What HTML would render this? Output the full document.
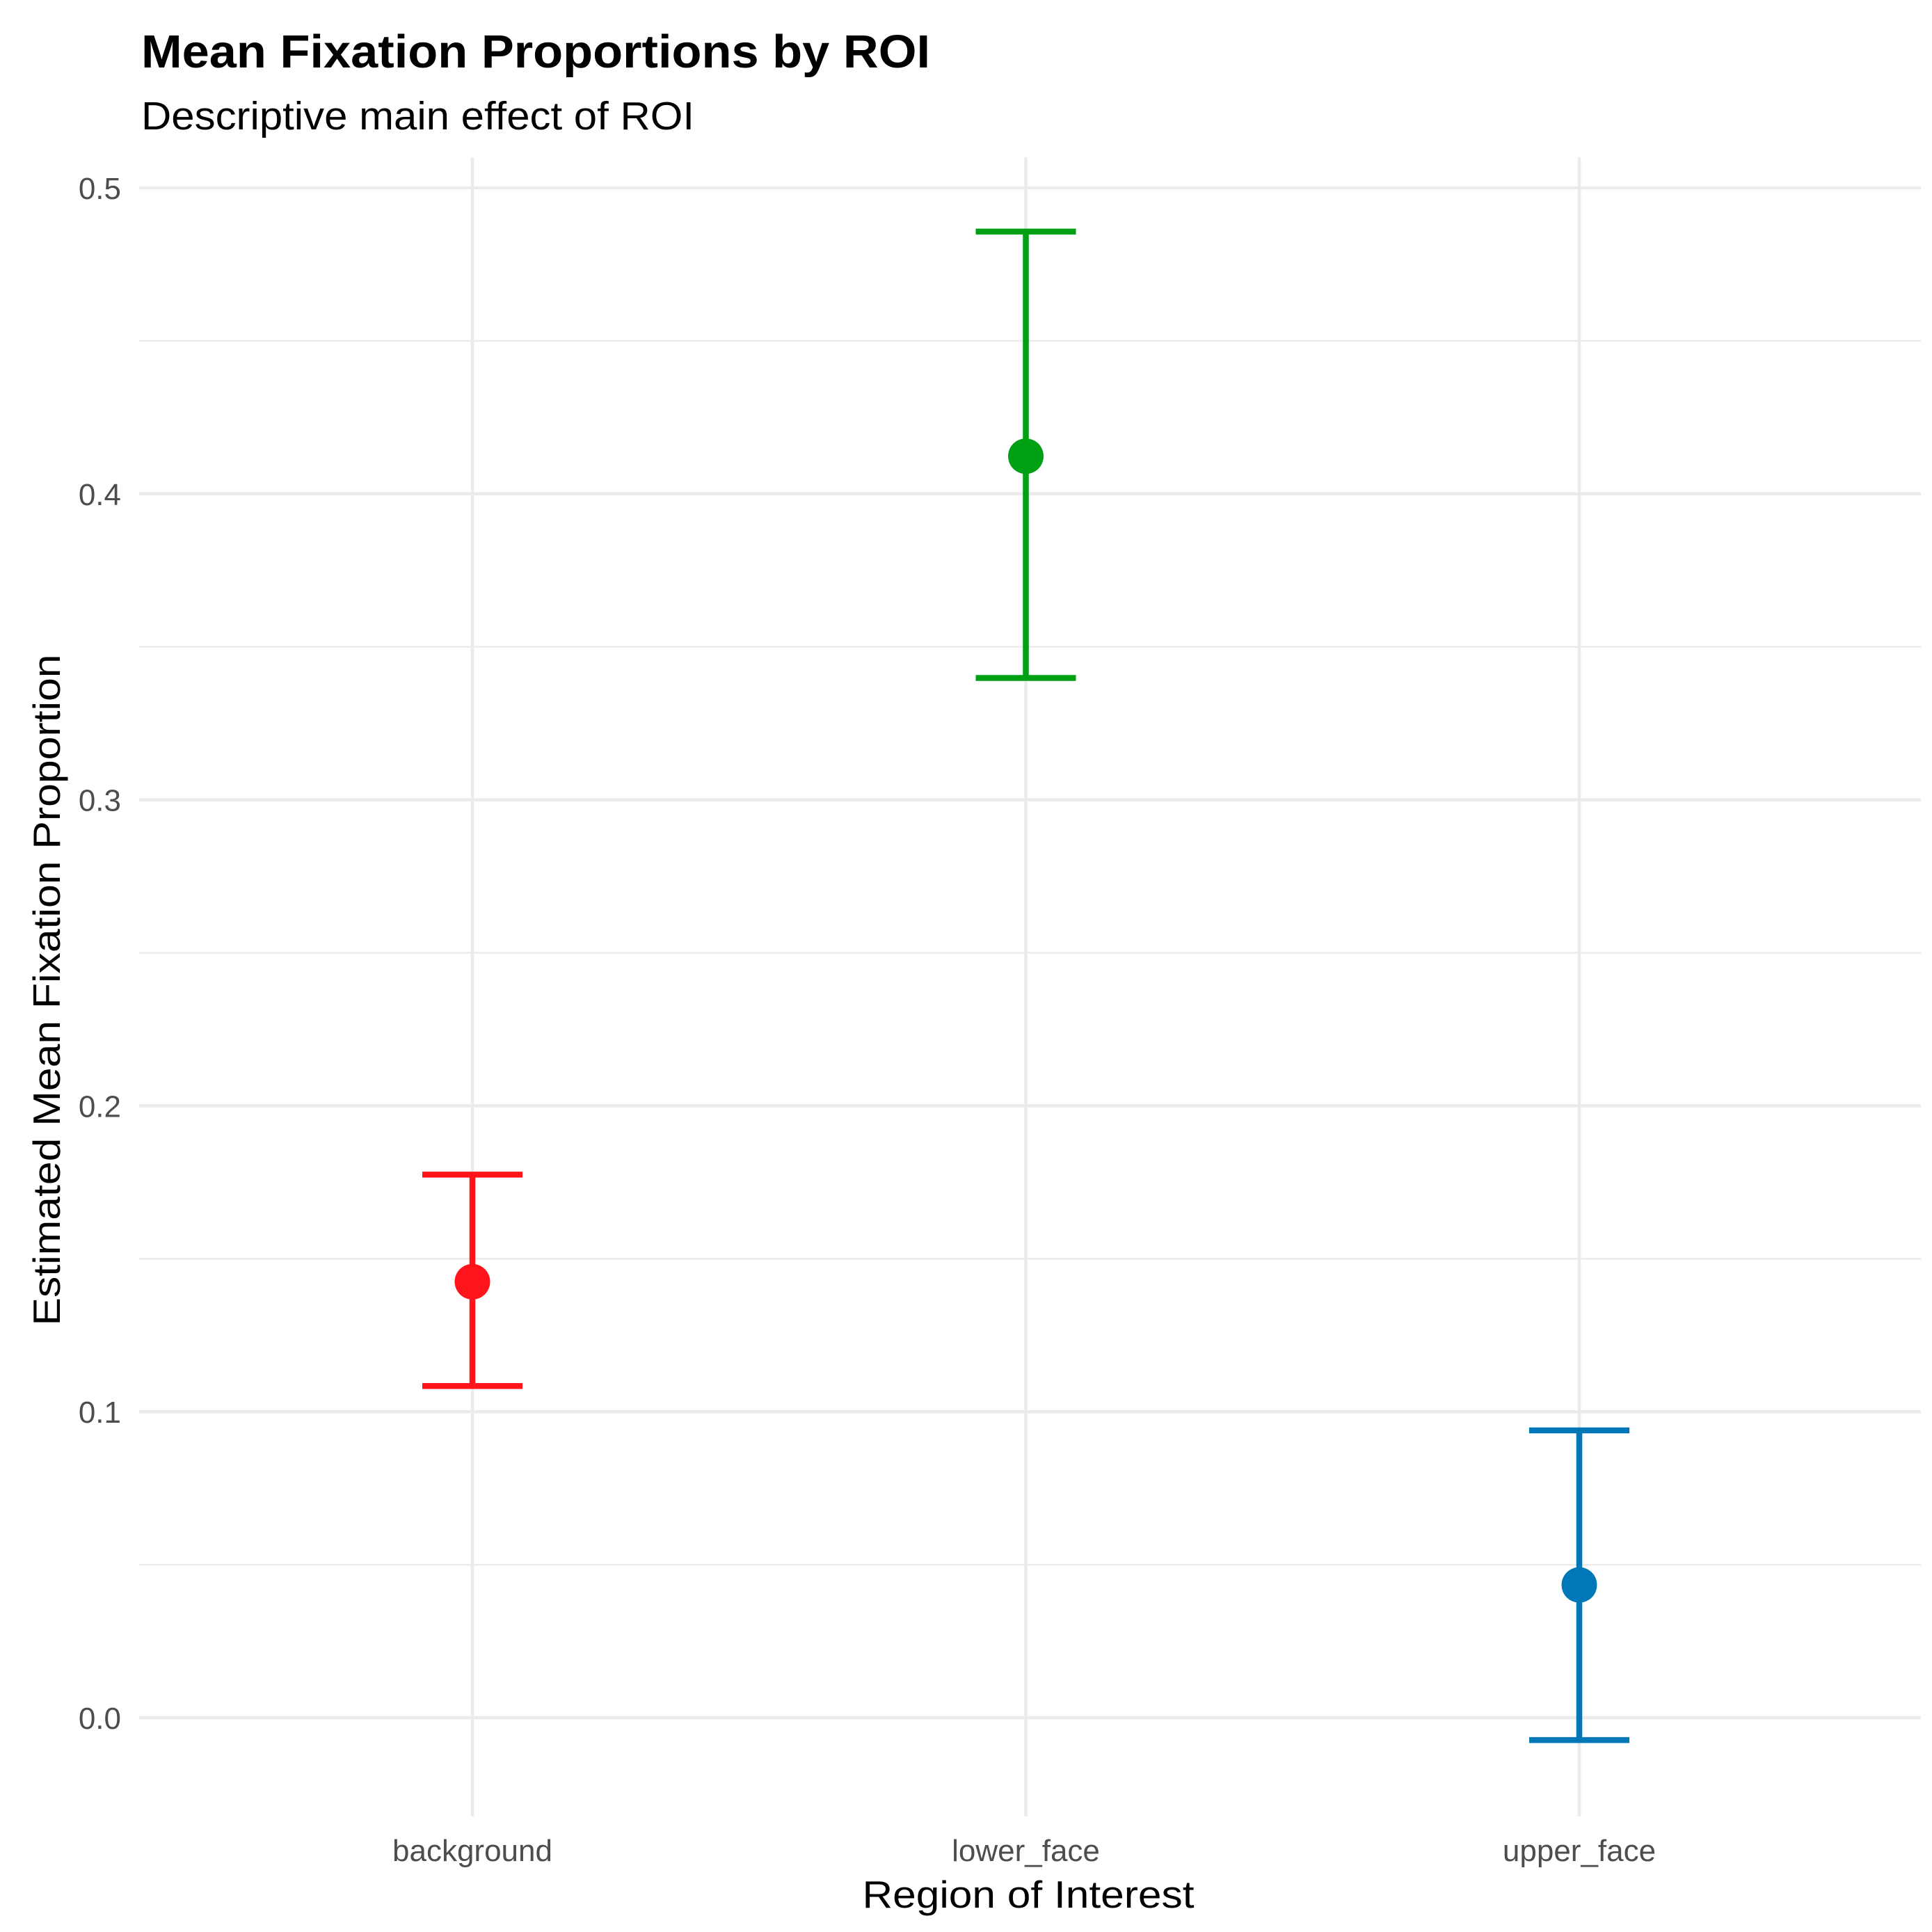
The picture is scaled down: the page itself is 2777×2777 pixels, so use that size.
<!DOCTYPE html>
<html><head><meta charset="utf-8"><style>
html,body{margin:0;padding:0;background:#fff;}
svg{display:block;font-family:"Liberation Sans",Arial,sans-serif;}
</style></head><body>
<svg id="chart" width="2777" height="2777" viewBox="0 0 2777 2777">
<text x="203" y="97" font-size="67" font-weight="bold" fill="#000" textLength="1134" lengthAdjust="spacingAndGlyphs">Mean Fixation Proportions by ROI</text>
<text x="203" y="186" font-size="57" fill="#000" textLength="795" lengthAdjust="spacingAndGlyphs">Descriptive main effect of ROI</text>
<g id="grid"></g>
<g id="yticks"></g>
<g id="xticks"></g>
<g id="marks"></g>
<text x="1478" y="2742" font-size="55" fill="#000" text-anchor="middle" textLength="477" lengthAdjust="spacingAndGlyphs">Region of Interest</text>
<text x="0" y="0" font-size="55" fill="#000" text-anchor="middle" textLength="965" lengthAdjust="spacingAndGlyphs" transform="translate(86,1423) rotate(-90)">Estimated Mean Fixation Proportion</text>
</svg>
<script>
const categories = ["background","lower_face","upper_face"];
const means = [0.1425, 0.4123, 0.0434];
const lowers = [0.1084, 0.3398, -0.0073];
const uppers = [0.1775, 0.4857, 0.0939];
const colors = ["#FF141C","#00A014","#0077B6"];
const yMajorTicks = [0.0,0.1,0.2,0.3,0.4,0.5];
const yTickLabels = ["0.0","0.1","0.2","0.3","0.4","0.5"];
const yMinorTicks = [0.05,0.15,0.25,0.35,0.45];

const NS="http://www.w3.org/2000/svg";
const PL=200, PR=2761, PT=226, PB=2611;
function yScale(v){return 2469-4398*v;}
function xScale(i){return 679+795.5*i;}
function mk(tag,parent,attrs){const e=document.createElementNS(NS,tag);for(const k in attrs)e.setAttribute(k,attrs[k]);parent.appendChild(e);return e;}
const grid=document.getElementById('grid'),yt=document.getElementById('yticks'),xt=document.getElementById('xticks'),marks=document.getElementById('marks');
yMinorTicks.forEach(v=>{const l=mk('line',grid,{x1:PL,x2:PR,y1:yScale(v),y2:yScale(v),stroke:'#EBEBEB','stroke-width':2.5});

});
yMajorTicks.forEach((v,i)=>{const l=mk('line',grid,{x1:PL,x2:PR,y1:yScale(v),y2:yScale(v),stroke:'#EBEBEB','stroke-width':4.5});


const t=mk('text',yt,{x:174,y:yScale(v)+16,'font-size':44,fill:'#4D4D4D','text-anchor':'end'});t.textContent=yTickLabels[i];

});
categories.forEach((c,i)=>{const x=xScale(i);
const l=mk('line',grid,{x1:x,x2:x,y1:PT,y2:PB,stroke:'#EBEBEB','stroke-width':4.5});


const t=mk('text',xt,{x:x,y:2675,'font-size':44,fill:'#4D4D4D','text-anchor':'middle'});t.textContent=c;


const g=mk('g',marks,{});


const col=colors[i];
mk('line',g,{x1:x,x2:x,y1:yScale(uppers[i]),y2:yScale(lowers[i]),stroke:col,'stroke-width':8.5});
mk('line',g,{x1:x-72,x2:x+72,y1:yScale(uppers[i]),y2:yScale(uppers[i]),stroke:col,'stroke-width':8.5});
mk('line',g,{x1:x-72,x2:x+72,y1:yScale(lowers[i]),y2:yScale(lowers[i]),stroke:col,'stroke-width':8.5});
const p=mk('circle',g,{cx:x,cy:yScale(means[i]),r:25.5,fill:col});


});
</script>
</body></html>
